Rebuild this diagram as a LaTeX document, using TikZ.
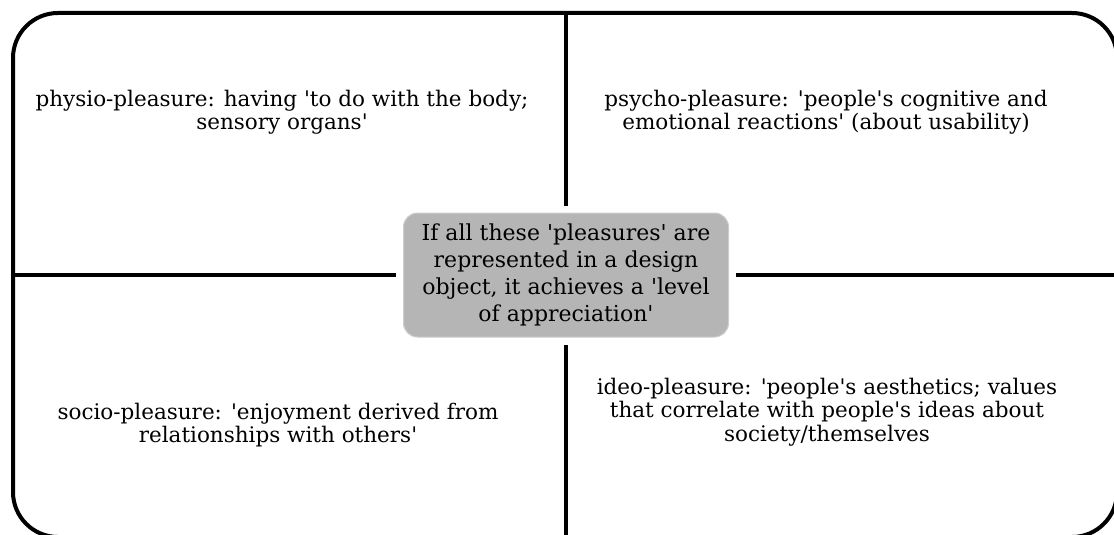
\documentclass[tikz,border=0pt]{standalone}
\usepackage{fontspec}
\newfontfamily\dfont{DejaVu Serif}
\definecolor{boxfill}{RGB}{181,181,181}
\definecolor{boxedge}{RGB}{205,205,205}
\begin{document}
\begin{tikzpicture}[x=1pt,y=-1pt,
  frame/.style={line width=4pt, rounded corners=45pt},
  divider/.style={line width=4.5pt, shorten >=7pt},
  quad/.style={align=center, font=\dfont\fontsize{21.5}{23.5}\selectfont, inner sep=0pt},
  centre/.style={fill=boxfill, draw=boxedge, line width=1pt, rounded corners=14pt,
    minimum width=325pt, minimum height=124pt, align=center,
    font=\dfont\fontsize{22}{27}\selectfont, inner sep=0pt}]
\useasboundingbox (0,0) rectangle (1114,535);
\clip (0,0) rectangle (1114,535);
\draw[frame] (13,13) rectangle (1117,537);
\node[centre] (core) at (566,275) {If all these 'pleasures' are\\ represented in a design\\ object, it achieves a 'level\\ of appreciation'};
\coordinate (ntop) at (566,13);
\coordinate (nbot) at (566,537);
\coordinate (wleft) at (13,275);
\coordinate (eright) at (1117,275);
\draw[divider] (ntop) -- (core);
\draw[divider] (nbot) -- (core);
\draw[divider] (wleft) -- (core);
\draw[divider] (eright) -- (core);
\node[quad] (physio) at (282,112) {physio-pleasure: having 'to do with the body;\\ sensory organs'};
\node[quad] (psycho) at (826,112) {psycho-pleasure: 'people's cognitive and\\ emotional reactions' (about usability)};
\node[quad] (socio) at (278,425) {socio-pleasure: 'enjoyment derived from\\ relationships with others'};
\node[quad] (ideo) at (827,412) {ideo-pleasure: 'people's aesthetics; values\\ that correlate with people's ideas about\\ society/themselves};
\end{tikzpicture}
\end{document}
